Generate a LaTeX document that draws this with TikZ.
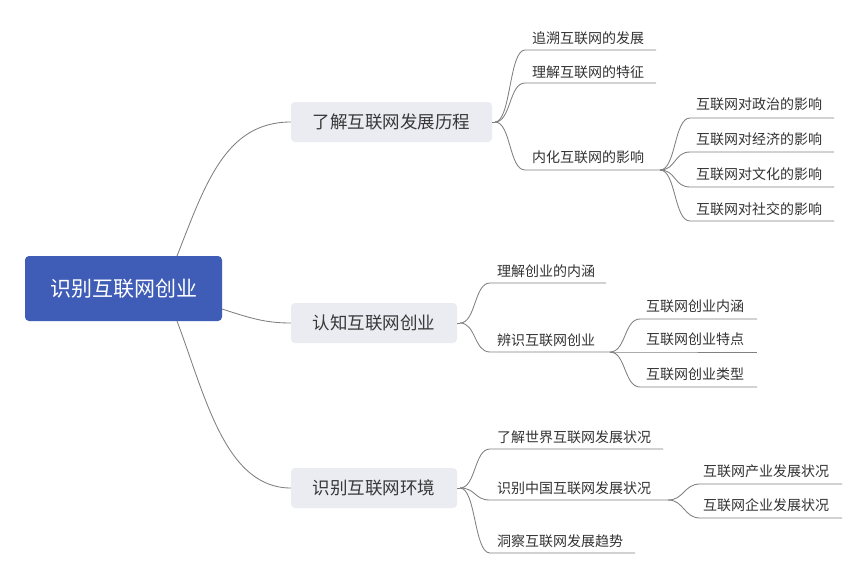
\documentclass[tikz,border=0pt]{standalone}
\usepackage{fontspec}
\usetikzlibrary{calc}
\setmainfont{Noto Sans CJK SC}
\begin{document}
\begin{tikzpicture}[x=1pt,y=-1pt,
  conn/.style={draw=black!50, line width=0.85pt},
  rootbox/.style={fill=rootblue, rounded corners=4pt, text=white, font=\fontsize{21}{23}\selectfont, inner sep=0pt, minimum width=197pt, minimum height=65pt},
  topicbox/.style={fill=topicgray, rounded corners=4pt, text=black!78, font=\fontsize{17.5}{19}\selectfont, inner sep=0pt, minimum height=40pt},
  leaf/.style={anchor=base west, inner sep=0pt, text=black!80, font=\fontsize{14}{16}\selectfont}
]
\definecolor{rootblue}{HTML}{3F5CB6}
\definecolor{topicgray}{HTML}{EBEBF2}
\useasboundingbox (0,0) rectangle (865,576);
\fill[white] (0,0) rectangle (865,576);

% root
\node[rootbox] (root) at (123.5,288.5) {识别互联网创业};
% topics
\node[topicbox, minimum width=201pt] (t1) at (391.5,122) {了解互联网发展历程};
\node[topicbox, minimum width=166pt] (t2) at (374,323) {认知互联网创业};
\node[topicbox, minimum width=166pt] (t3) at (374,488) {识别互联网环境};

\coordinate (r1) at (177,256);
\coordinate (r2) at (222,309);
\coordinate (r3) at (177,321);
\draw[conn] (r1) .. controls (205,185) and (225,122) .. (t1.west);
\draw[conn] (r2) .. controls (250,318) and (265,323) .. (t2.west);
\draw[conn] (r3) .. controls (205,395) and (225,488) .. (t3.west);

% group 1
\coordinate (g1) at (495,122);
\coordinate (a1s) at (525,50);  \coordinate (a1e) at (656,50);
\coordinate (a2s) at (525,83);  \coordinate (a2e) at (656,83);
\coordinate (a3s) at (525,170); \coordinate (a3e) at (660,170);
\node[leaf] (a1) at (532,43) {追溯互联网的发展};
\node[leaf] (a2) at (532,77) {理解互联网的特征};
\node[leaf] (a3) at (532,162) {内化互联网的影响};
\draw[conn] (t1.east) -- (g1);
\foreach \n in {a1,a2,a3}
  \draw[conn] (g1) .. controls ($(g1)+(16,0)$) and ($(\n s)+(-16,0)$) .. (\n s) -- (\n e);

\coordinate (b1s) at (690,118); \coordinate (b1e) at (834,118);
\coordinate (b2s) at (690,152); \coordinate (b2e) at (834,152);
\coordinate (b3s) at (690,187); \coordinate (b3e) at (834,187);
\coordinate (b4s) at (690,221); \coordinate (b4e) at (834,221);
\node[leaf] (b1) at (696,109) {互联网对政治的影响};
\node[leaf] (b2) at (696,144) {互联网对经济的影响};
\node[leaf] (b3) at (696,179) {互联网对文化的影响};
\node[leaf] (b4) at (696,214) {互联网对社交的影响};
\foreach \n in {b1,b2,b3,b4}
  \draw[conn] (a3e) .. controls ($(a3e)+(16,0)$) and ($(\n s)+(-16,0)$) .. (\n s) -- (\n e);

% group 2
\coordinate (g2) at (460,323);
\coordinate (c1s) at (490,283); \coordinate (c1e) at (606,283);
\coordinate (c2s) at (490,352); \coordinate (c2e) at (610,352);
\node[leaf] (c1) at (497,276) {理解创业的内涵};
\node[leaf] (c2) at (497,345) {辨识互联网创业};
\draw[conn] (t2.east) -- (g2);
\foreach \n in {c1,c2}
  \draw[conn] (g2) .. controls ($(g2)+(16,0)$) and ($(\n s)+(-16,0)$) .. (\n s) -- (\n e);

\coordinate (d1s) at (640,319); \coordinate (d1e) at (757,319);
\coordinate (d2s) at (640,352); \coordinate (d2e) at (757,352);
\coordinate (d3s) at (640,387); \coordinate (d3e) at (757,387);
\node[leaf] (d1) at (646,311) {互联网创业内涵};
\node[leaf] (d2) at (646,344) {互联网创业特点};
\node[leaf] (d3) at (646,379) {互联网创业类型};
\foreach \n in {d1,d2,d3}
  \draw[conn] (c2e) .. controls ($(c2e)+(16,0)$) and ($(\n s)+(-16,0)$) .. (\n s) -- (\n e);

% group 3
\coordinate (g3) at (460,488);
\coordinate (e1s) at (490,449); \coordinate (e1e) at (663,449);
\coordinate (e2s) at (490,500); \coordinate (e2e) at (668,500);
\coordinate (e3s) at (490,553); \coordinate (e3e) at (635,553);
\node[leaf] (e1) at (497,442) {了解世界互联网发展状况};
\node[leaf] (e2) at (497,493) {识别中国互联网发展状况};
\node[leaf] (e3) at (497,546) {洞察互联网发展趋势};
\draw[conn] (t3.east) -- (g3);
\foreach \n in {e1,e2,e3}
  \draw[conn] (g3) .. controls ($(g3)+(16,0)$) and ($(\n s)+(-16,0)$) .. (\n s) -- (\n e);

\coordinate (f1s) at (700,484); \coordinate (f1e) at (842,484);
\coordinate (f2s) at (700,518); \coordinate (f2e) at (842,518);
\node[leaf] (f1) at (703,476) {互联网产业发展状况};
\node[leaf] (f2) at (703,510) {互联网企业发展状况};
\foreach \n in {f1,f2}
  \draw[conn] (e2e) .. controls ($(e2e)+(16,0)$) and ($(\n s)+(-16,0)$) .. (\n s) -- (\n e);
\end{tikzpicture}
\end{document}
